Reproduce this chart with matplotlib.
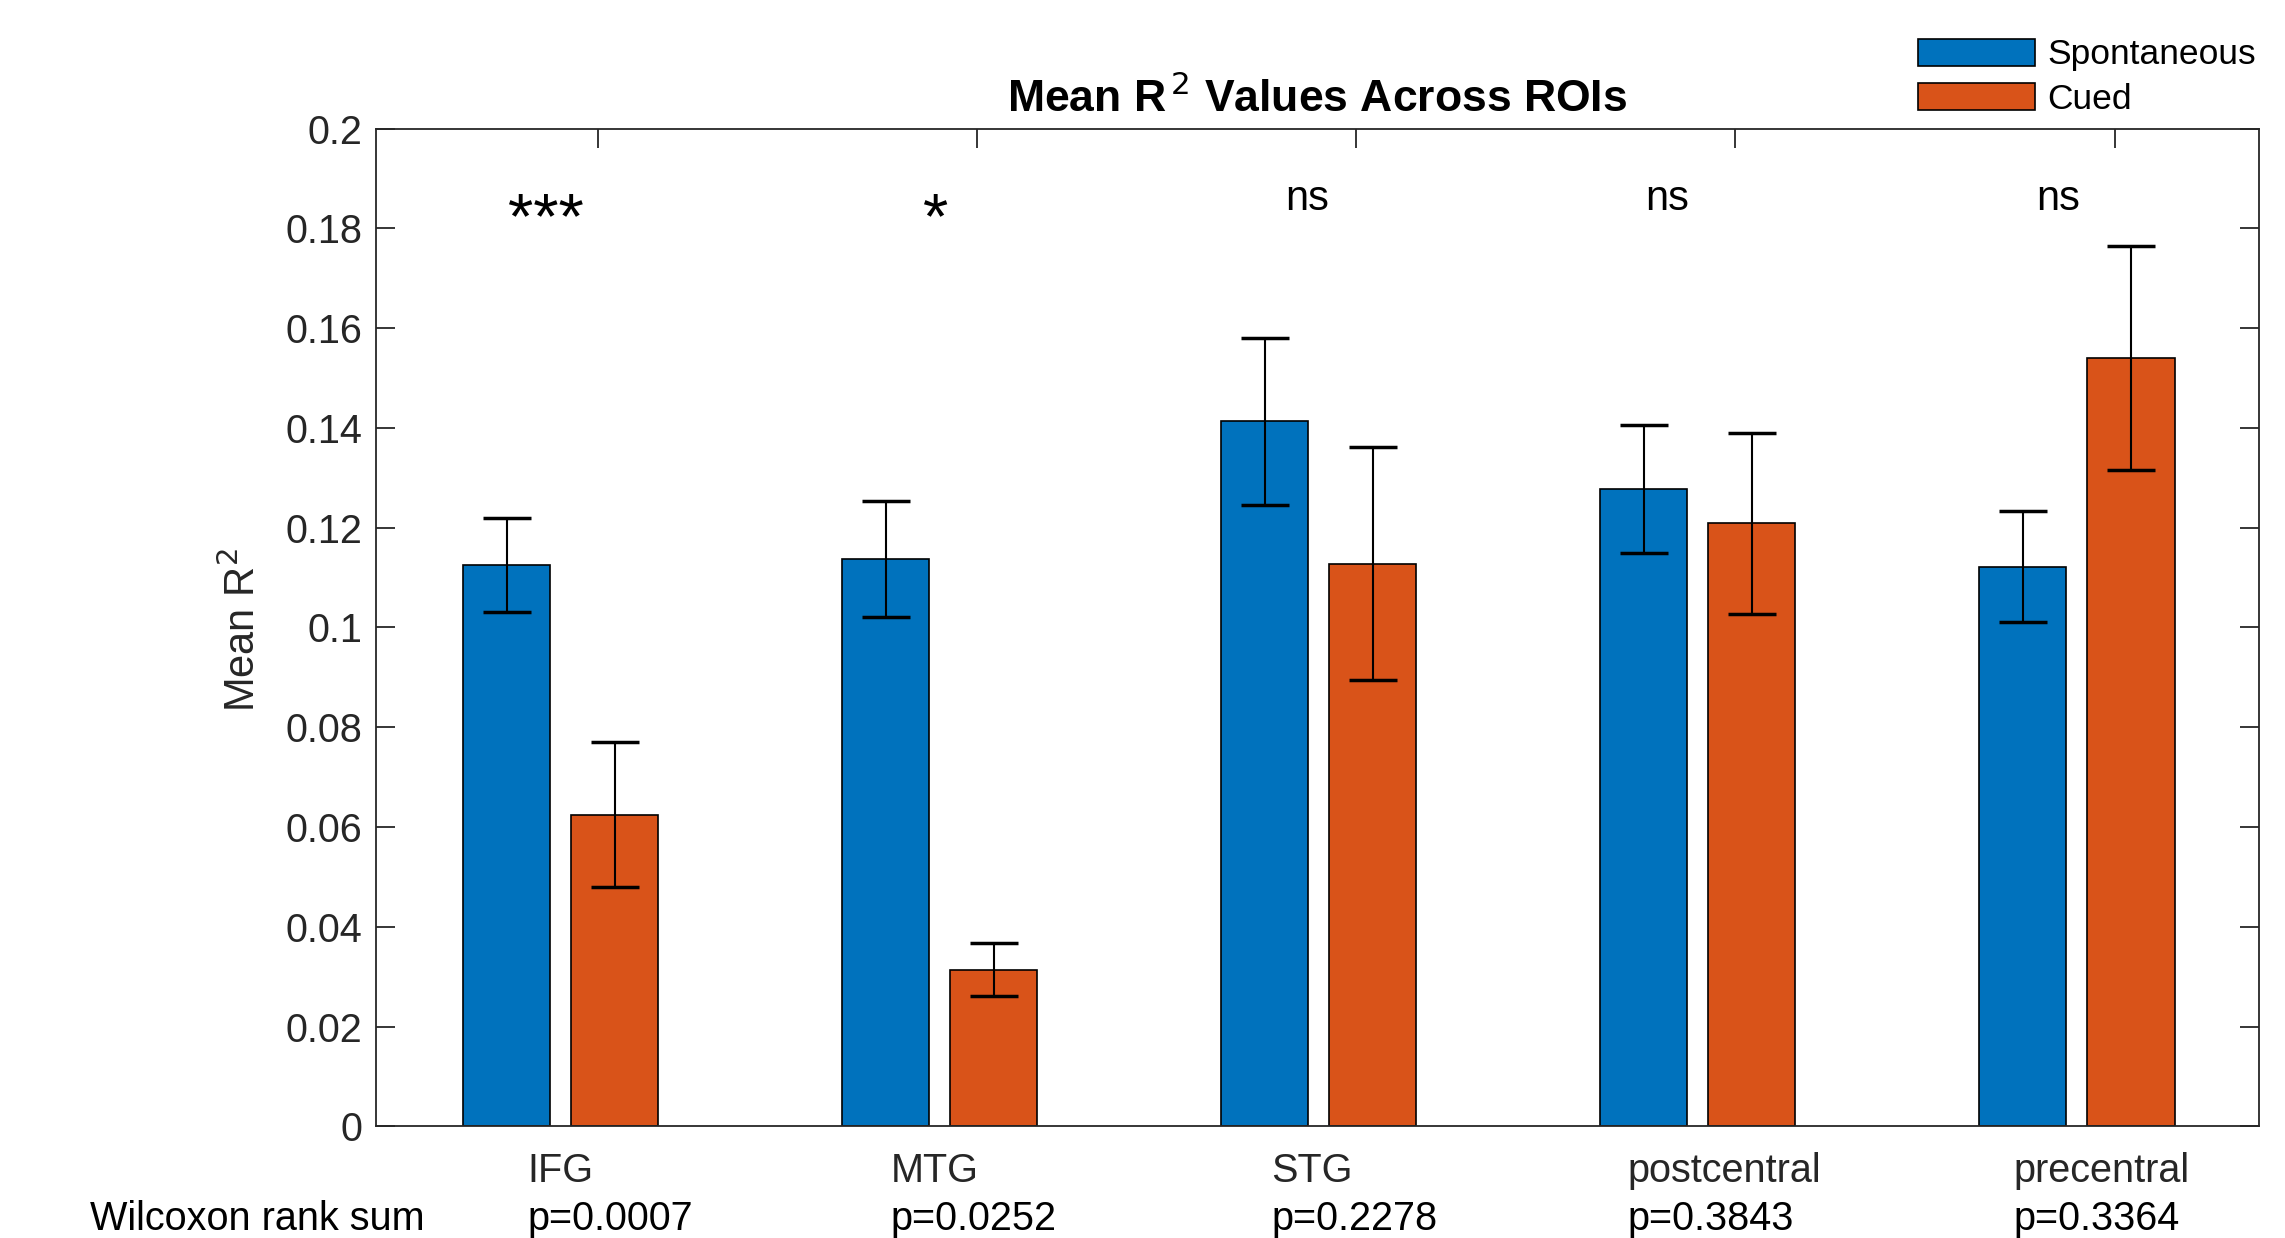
import matplotlib
matplotlib.use("Agg")
import matplotlib.pyplot as plt
from matplotlib.patches import Patch
import numpy as np

plt.rcParams['font.family'] = ['Liberation Sans', 'DejaVu Sans']

# Data
regions = ['IFG', 'MTG', 'STG', 'postcentral', 'precentral']
spont_mean = [0.1125, 0.1137, 0.1413, 0.1277, 0.1122]
spont_sem = [0.0094, 0.0116, 0.0167, 0.0128, 0.0111]
cued_mean = [0.0625, 0.0314, 0.1128, 0.1209, 0.1540]
cued_sem = [0.0145, 0.0053, 0.0234, 0.0181, 0.0224]
sig_labels = ['***', '*', 'ns', 'ns', 'ns']
p_labels = ['p=0.0007', 'p=0.0252', 'p=0.2278', 'p=0.3843', 'p=0.3364']

# Left edge of the text under each group (offset from group centre, group units)
label_offsets = [-0.087, -0.129, -0.125, -0.186, -0.167]
sig_offsets = [-0.04, -0.01, -0.03, -0.08, -0.05]

blue = '#0072BD'
orange = '#D95319'
axis_col = '#262626'

fig = plt.figure(figsize=(22.85, 12.38), dpi=100)
ax = fig.add_axes([0.1646, 0.0901, 0.8240, 0.8061])

x = np.arange(1, len(regions) + 1)
w = 0.2296
off = 0.1425

ax.bar(x - off, spont_mean, w, color=blue, edgecolor='black', linewidth=1.2, zorder=2)
ax.bar(x + off, cued_mean, w, color=orange, edgecolor='black', linewidth=1.2, zorder=2)
ax.errorbar(x - off, spont_mean, yerr=spont_sem, fmt='none', ecolor='black', elinewidth=1.5,
            capsize=17, capthick=2.5, zorder=3)
ax.errorbar(x + off, cued_mean, yerr=cued_sem, fmt='none', ecolor='black', elinewidth=1.5,
            capsize=17, capthick=2.5, zorder=3)

ax.set_xlim(0.513, 5.48)
ax.set_ylim(0, 0.2)
yt = np.arange(0, 0.2001, 0.02)
ax.set_yticks(yt)
ax.set_yticklabels(['%g' % round(v, 2) for v in yt])
ax.set_xticks(x + 0.099)
ax.set_xticklabels([])

for s in ax.spines.values():
    s.set_color(axis_col)
    s.set_linewidth(1.3)
ax.tick_params(axis='both', which='both', direction='in', top=True, right=True,
               length=14, width=1.3, color=axis_col, labelsize=28.5, labelcolor=axis_col, pad=10)

ax.set_ylabel('Mean R$^2$', fontsize=30, color=axis_col, va='center')
ax.yaxis.set_label_coords(-0.071, 0.497)
ax.set_title('Mean R$^{\\,2}$ Values Across ROIs', fontsize=32, fontweight='bold', pad=12)

# Region names and p-values below the axis
tr = ax.get_xaxis_transform()
for xi, name, p, o in zip(x, regions, p_labels, label_offsets):
    ax.text(xi + o, -0.0556, name, transform=tr, ha='left', va='baseline', fontsize=28.5, color=axis_col)
    ax.text(xi + o, -0.1037, p, transform=tr, ha='left', va='baseline', fontsize=28.5, color='black')
ax.text(-0.2414, -0.1037, 'Wilcoxon rank sum', transform=tr, ha='left', va='baseline',
        fontsize=28.5, color='black')

# Significance markers
for xi, s, o in zip(x, sig_labels, sig_offsets):
    if s == 'ns':
        ax.text(xi + o, 0.1858, s, ha='center', va='center', fontsize=30, color='black')
    else:
        ax.text(xi + o, 0.1815, s, ha='center', va='center', fontsize=47, color='black')

handles = [Patch(facecolor=blue, edgecolor='black', linewidth=1.2, label='Spontaneous'),
           Patch(facecolor=orange, edgecolor='black', linewidth=1.2, label='Cued')]
fig.legend(handles=handles, loc='upper right', bbox_to_anchor=(0.998, 0.989), frameon=False,
           fontsize=25.5, handlelength=3.3, handleheight=0.8, handletextpad=0.35, labelspacing=0.33,
           borderpad=0.2)

fig.savefig('out.png', dpi=100)
